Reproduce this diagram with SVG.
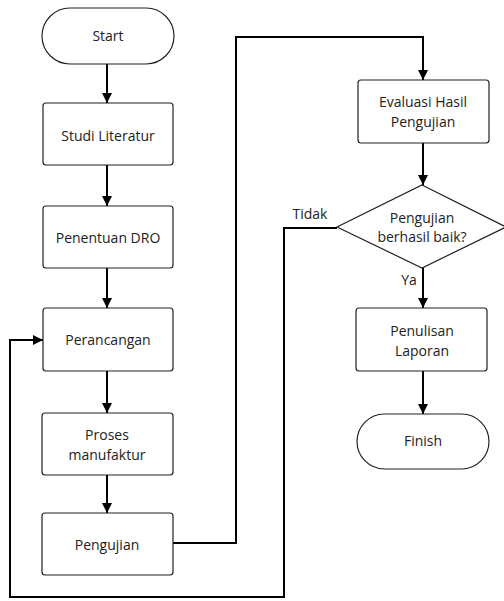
<svg xmlns="http://www.w3.org/2000/svg" width="504" height="601" viewBox="0 0 504 601">
<style>
.n{fill:#fff;stroke:#222;stroke-width:1.2}
.t{font-family:"Open Sans","Noto Sans",sans-serif;font-size:14px;fill:#222;text-anchor:middle}
.c{fill:none;stroke:#000;stroke-width:2;stroke-linejoin:miter}
</style>
<defs>
<marker id="ah" viewBox="0 0 10 10" refX="10" refY="5" markerWidth="5" markerHeight="5" orient="auto" markerUnits="strokeWidth">
<path d="M0,0 L10,5 L0,10 Z" fill="#000"/>
</marker>
</defs>
<rect width="504" height="601" fill="#fff"/>
<g id="connectors">
<path class="c" d="M107,64 V103" marker-end="url(#ah)"/>
<path class="c" d="M107,165 V206" marker-end="url(#ah)"/>
<path class="c" d="M107,268 V308" marker-end="url(#ah)"/>
<path class="c" d="M107,371 V413" marker-end="url(#ah)"/>
<path class="c" d="M107,475 V513" marker-end="url(#ah)"/>
<path class="c" d="M173,543 H236 V37 H423 V80" marker-end="url(#ah)"/>
<path class="c" d="M423,143 V185" marker-end="url(#ah)"/>
<path class="c" d="M423,268 V308" marker-end="url(#ah)"/>
<path class="c" d="M423,371 V414" marker-end="url(#ah)"/>
<path class="c" d="M337,228 H284 V597 H10 V340 H43" marker-end="url(#ah)"/>
<text class="t" x="310" y="219">Tidak</text>
<text class="t" x="409" y="285">Ya</text>
</g>
<g id="start">
<rect class="n" x="42" y="8" width="132" height="56" rx="28"/>
<text class="t" x="108" y="41">Start</text>
</g>
<g id="studi">
<rect class="n" x="43" y="103" width="130" height="62" rx="3"/>
<text class="t" x="108" y="141">Studi Literatur</text>
</g>
<g id="dro">
<rect class="n" x="43" y="206" width="130" height="62" rx="3"/>
<text class="t" x="108" y="243">Penentuan DRO</text>
</g>
<g id="perancangan">
<rect class="n" x="43" y="308" width="130" height="63" rx="3"/>
<text class="t" x="108" y="345">Perancangan</text>
</g>
<g id="proses">
<rect class="n" x="42" y="413" width="131" height="62" rx="3"/>
<text class="t" x="107" y="440">Proses</text>
<text class="t" x="107" y="460">manufaktur</text>
</g>
<g id="pengujian">
<rect class="n" x="42" y="513" width="131" height="62" rx="3"/>
<text class="t" x="107" y="550">Pengujian</text>
</g>
<g id="evaluasi">
<rect class="n" x="358" y="80" width="131" height="63" rx="3"/>
<text class="t" x="423" y="107">Evaluasi Hasil</text>
<text class="t" x="423" y="127">Pengujian</text>
</g>
<g id="decision">
<polygon class="n" points="422,185 506,227 422,268 337,227"/>
<text class="t" x="422" y="223">Pengujian</text>
<text class="t" x="422" y="242">berhasil baik?</text>
</g>
<g id="penulisan">
<rect class="n" x="356" y="308" width="131" height="63" rx="3"/>
<text class="t" x="422" y="336">Penulisan</text>
<text class="t" x="422" y="356">Laporan</text>
</g>
<g id="finish">
<rect class="n" x="357" y="414" width="132" height="55" rx="27.5"/>
<text class="t" x="423" y="446">Finish</text>
</g>
</svg>
